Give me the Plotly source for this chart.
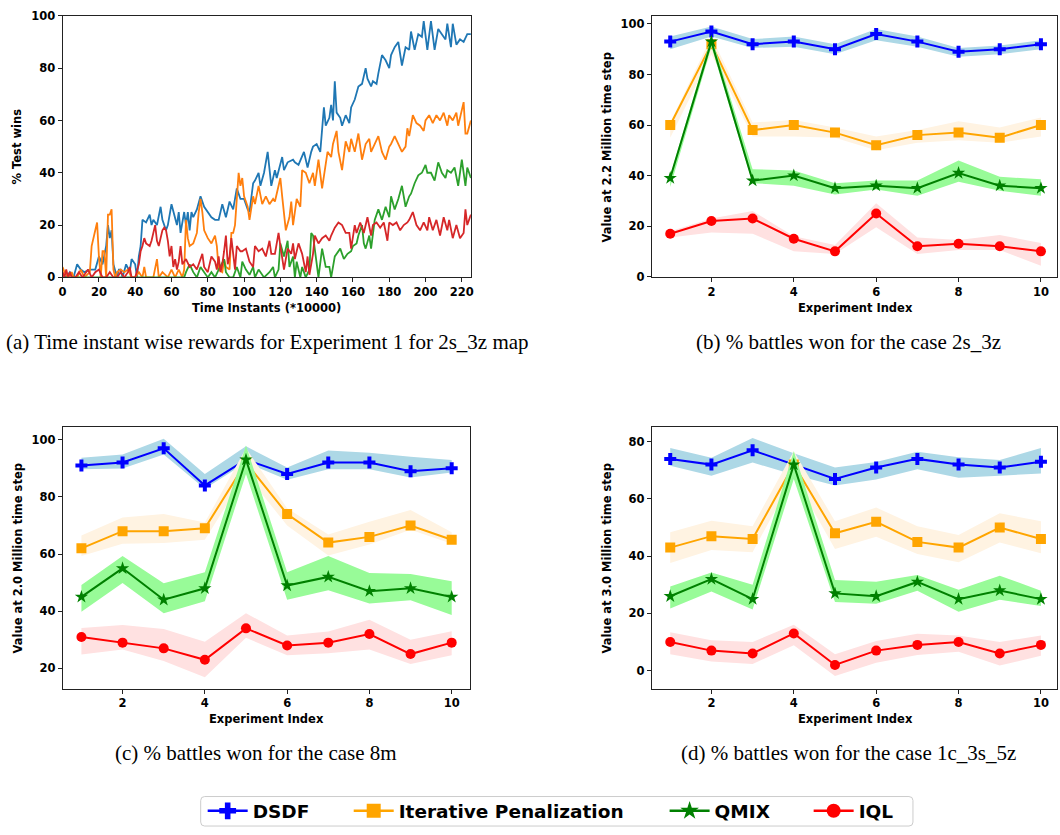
import plotly.graph_objects as go

FIG_W, FIG_H = 1060, 835


def fx(p):
    return p / FIG_W


def fy(p):
    return 1 - p / FIG_H


# ---------------- (a) test win rate during training, experiment 1 ----------------
dsdf_t = [0, 2, 4, 6, 8, 10, 12, 15, 17, 18, 20, 22, 24, 25, 26, 27, 28, 30, 31, 32, 33, 35, 37, 38,
          40, 41, 42, 43, 44, 46, 48, 49, 50, 52, 54, 55, 57, 58, 60, 61, 63, 64, 65, 67, 68, 69,
          70, 71, 72, 74, 76, 78, 80, 82, 84, 86, 88, 90, 92, 94, 96, 98, 100, 102, 103, 105, 106,
          108, 109, 111, 113, 115, 117, 118, 121, 122, 124, 127, 128, 130, 133, 135, 137, 138, 140,
          142, 144, 145, 147, 148, 149, 150, 151, 153, 154, 156, 158, 159, 161, 163, 165, 167, 168,
          170, 171, 173, 174, 176, 178, 180, 181, 183, 185, 187, 189, 191, 192, 194, 196, 198, 199,
          201, 203, 205, 207, 209, 211, 212, 214, 215, 217, 219, 221, 223, 225]
dsdf_win = [1, 0, 2, 0, 5, 3, 2, 3, 3, 3, 8, 5, 12, 20, 15, 18, 5, 0, 3, 3, 0, 5, 2, 7,
            5, 0, 8, 12, 22, 21, 24, 20, 22, 20, 27, 22, 18, 20, 28, 25, 20, 25, 17, 25, 20, 25,
            18, 25, 23, 26, 31, 27, 25, 23, 22, 22, 28, 23, 29, 26, 34, 30, 30, 26, 25, 36, 37,
            40, 35, 40, 48, 35, 41, 38, 46, 41, 44, 45, 44, 43, 48, 42, 48, 50, 51,
            48, 65, 58, 61, 66, 60, 75, 63, 61, 58, 62, 59, 65, 68, 73, 74, 80, 76,
            73, 75, 74, 78, 85, 83, 80, 85, 88, 90, 81, 88, 87, 94, 87, 93, 92, 98,
            87, 98, 87, 95, 93, 91, 97, 88, 97, 89, 91, 90, 93, 93]

ip_t = [0, 1, 3, 5, 6, 8, 10, 12, 15, 16, 18, 19, 20, 21, 22, 23, 24, 25, 26, 27, 28, 29, 30, 32,
        34, 36, 38, 40, 42, 44, 45, 46, 48, 50, 52, 53, 55, 58, 60, 62, 64, 66, 67, 68, 69, 70,
        72, 74, 75, 76, 77, 78, 80, 82, 84, 85, 86, 88, 89, 90, 92, 93, 94, 95, 96, 97, 98, 99,
        100, 102, 103, 105, 106, 108, 110, 112, 114, 116, 117, 120, 121, 123, 125, 126, 127, 129,
        131, 132, 134, 136, 138, 139, 141, 143, 146, 148, 149, 151, 152, 154, 156, 158, 159, 161,
        163, 165, 167, 169, 170, 172, 174, 176, 178, 180, 181, 183, 185, 187, 189, 190, 191, 193,
        195, 197, 199, 200, 202, 204, 206, 208, 210, 212, 213, 215, 217, 218, 221, 222, 223, 225]
ip_win = [4, 2, 0, 2, 0, 0, 3, 0, 2, 12, 18, 21, 8, 0, 10, 10, 0, 24, 24, 26, 3, 0, 2, 3,
          2, 3, 0, 0, 2, 0, 4, 0, 0, 0, 7, 0, 2, 0, 3, 0, 3, 0, 3, 22, 15, 12,
          13, 17, 25, 30, 25, 18, 15, 13, 16, 12, 3, 2, 7, 4, 3, 17, 17, 20, 30, 40, 35, 38,
          31, 27, 22, 31, 28, 35, 28, 31, 28, 30, 29, 38, 31, 18, 23, 29, 20, 30,
          27, 41, 40, 36, 40, 35, 45, 34, 48, 46, 51, 56, 48, 41, 52, 48, 53, 48,
          55, 45, 51, 53, 48, 51, 54, 48, 45, 50, 51, 54, 51, 48, 50, 57, 54, 62,
          59, 58, 56, 60, 62, 59, 62, 60, 63, 58, 62, 60, 63, 58, 67, 55, 55, 60]

qmix_t = [0, 20, 40, 60, 67, 68, 70, 72, 74, 76, 78, 80, 82, 84, 86, 88, 89, 90, 92, 94, 96, 98,
          99, 101, 103, 105, 106, 108, 111, 114, 116, 117, 119, 120, 122, 124, 125, 127, 128, 129,
          131, 132, 134, 136, 137, 138, 140, 141, 143, 145, 147, 148, 150, 152, 153, 155, 157, 159,
          160, 162, 163, 165, 166, 167, 169, 170, 172, 174, 176, 178, 180, 181, 183, 185, 187, 189,
          191, 192, 194, 196, 198, 200, 201, 203, 205, 207, 209, 211, 212, 214, 216, 218, 220, 222,
          223, 225]
qmix_win = [0, 0, 0, 0, 0, 2, 5, 2, 0, 4, 2, 0, 2, 0, 3, 6, 7, 2, 0, 0, 4, 0,
            6, 3, 1, 4, 0, 3, 0, 2, 4, 0, 3, 13, 8, 14, 4, 8, 0, 6,
            0, 4, 0, 3, 17, 16, 4, 0, 11, 4, 4, 0, 8, 10, 11, 7, 9, 10,
            12, 13, 16, 20, 13, 11, 16, 11, 22, 26, 22, 27, 23, 31, 26, 30, 35, 27,
            31, 32, 36, 39, 40, 43, 40, 40, 37, 44, 40, 38, 41, 40, 42, 35, 45, 35,
            42, 38]

iql_t = [0, 1, 2, 3, 4, 5, 7, 9, 11, 13, 14, 16, 18, 20, 22, 24, 26, 28, 30, 32, 34, 36, 37, 38,
         40, 42, 43, 44, 45, 46, 48, 49, 50, 51, 52, 53, 54, 55, 56, 57, 58, 59, 60, 61, 62, 63,
         64, 65, 66, 68, 70, 72, 74, 76, 77, 78, 80, 82, 84, 85, 86, 87, 88, 89, 90, 91, 92, 93,
         94, 95, 96, 98, 99, 101, 103, 105, 106, 108, 110, 112, 114, 115, 117, 119, 120, 122, 124,
         126, 127, 128, 130, 132, 134, 135, 136, 138, 139, 141, 143, 145, 147, 148, 150, 152, 154,
         156, 158, 159, 161, 162, 164, 166, 168, 170, 171, 173, 175, 177, 179, 180, 182, 184, 186,
         188, 190, 191, 193, 195, 197, 199, 201, 202, 204, 206, 208, 210, 212, 213, 215, 217, 219,
         221, 222, 223, 225]
iql_win = [2, 0, 3, 0, 2, 0, 0, 2, 0, 2, 3, 0, 2, 3, 0, 0, 2, 0, 0, 2, 0, 2, 4, 0,
           0, 5, 10, 12, 15, 13, 12, 14, 17, 20, 14, 12, 15, 18, 19, 18, 14, 8, 12, 4, 7, 3,
           6, 12, 5, 7, 4, 5, 3, 7, 9, 4, 2, 8, 6, 3, 8, 2, 5, 10, 16, 5, 8, 15,
           10, 3, 12, 10, 10, 11, 6, 4, 12, 10, 11, 8, 14, 9, 9, 17, 12, 3, 11,
           9, 13, 7, 13, 9, 2, 8, 1, 9, 16, 13, 15, 16, 14, 16, 19, 21, 20,
           17, 17, 11, 20, 17, 21, 17, 23, 16, 20, 21, 19, 21, 14, 21, 20, 21, 18,
           20, 21, 22, 25, 20, 18, 21, 18, 23, 18, 22, 16, 23, 18, 22, 15, 20, 15,
           17, 26, 20, 24]

# ---------------- (b)-(d) value at the final time step per experiment ----------------
experiments = [1, 2, 3, 4, 5, 6, 7, 8, 9, 10]

# (b) 2s_3z, value at 2.2M steps
b_dsdf = [93, 97, 92, 93, 90, 96, 93, 89, 90, 92]
b_dsdf_lo = [90, 95, 90.5, 91, 88, 93.5, 91, 87, 88, 90]
b_dsdf_hi = [95, 99, 94, 95, 92, 98, 95, 90.5, 91.5, 93.5]
b_ip = [60, 92, 58, 60, 57, 52, 56, 57, 55, 60]
b_ip_lo = [55, 88, 55.5, 55.5, 55, 50, 53, 54, 53, 55.5]
b_ip_hi = [61, 95, 61, 62, 59, 55.5, 58, 61.5, 59, 63]
b_qmix = [39, 93, 38, 40, 35, 36, 35, 41, 36, 35]
b_qmix_lo = [35.5, 91, 37, 36, 32.5, 34.5, 32, 37.5, 34, 32]
b_qmix_hi = [40, 95, 42.5, 42, 37, 38, 38, 46, 39.5, 38.5]
b_iql = [17, 22, 23, 15, 10, 25, 12, 13, 12, 10]
b_iql_lo = [15.5, 17.5, 17, 10, 9, 19.5, 9, 10.5, 10.5, 4.3]
b_iql_hi = [18, 23, 26, 16, 12.5, 29, 15.5, 14.5, 16.5, 13.3]

# (c) 8m, value at 2.0M steps
c_dsdf = [91, 92, 97, 84, 93, 88, 92, 92, 89, 90]
c_dsdf_lo = [89.7, 89.9, 94.8, 82.8, 92, 86, 89.7, 89.7, 86.8, 88.5]
c_dsdf_hi = [93.7, 94.8, 100.3, 88, 97.7, 90.3, 96.2, 95.4, 94, 92.9]
c_ip = [62, 68, 68, 69, 92, 74, 64, 66, 70, 65]
c_ip_lo = [59.3, 63.6, 63.9, 65, 88, 70, 59.5, 63.3, 68.5, 63.6]
c_ip_hi = [66.5, 72.8, 74, 71, 97, 76, 66.8, 71.3, 75.4, 67.6]
c_qmix = [45, 55, 44, 48, 93, 49, 52, 47, 48, 45]
c_qmix_lo = [39.8, 49.9, 39.3, 43.5, 88, 44, 47.3, 42.7, 43.8, 38.7]
c_qmix_hi = [49.2, 59.3, 49.8, 53.6, 98, 53.6, 59.3, 53.4, 53, 50.5]
c_iql = [31, 29, 27, 23, 34, 28, 29, 32, 25, 29]
c_iql_lo = [24.9, 26.6, 22.6, 16.9, 30.7, 24.6, 25.3, 26.6, 21.5, 24.6]
c_iql_hi = [34.1, 35.2, 33.8, 29.3, 39.3, 31.5, 32.9, 37, 30, 33]

# (d) 1c_3s_5z, value at 3.0M steps
d_dsdf = [74, 72, 77, 72, 67, 71, 74, 72, 71, 73]
d_dsdf_lo = [71.6, 68.1, 72.7, 68.5, 64.7, 66.8, 70.4, 67.4, 68.1, 68.9]
d_dsdf_hi = [77.8, 74.4, 81.3, 76, 71, 72.9, 76.5, 74.6, 73.6, 77.8]
d_ip = [43, 47, 46, 72, 48, 52, 45, 43, 50, 46]
d_ip_lo = [37.6, 42.2, 41.4, 68, 42.5, 46.8, 40.8, 37.9, 44.8, 41]
d_ip_hi = [48.4, 52.4, 50.5, 76.7, 52.2, 57, 50.5, 47.4, 55, 52.2]
d_qmix = [26, 32, 25, 72, 27, 26, 31, 25, 28, 25]
d_qmix_lo = [21.7, 27.7, 21.4, 67, 24, 23.4, 27.9, 20.6, 24.8, 22.6]
d_qmix_hi = [29.4, 34.3, 30, 76.7, 31.7, 31.1, 33.4, 28.3, 33.2, 27.9]
d_iql = [10, 7, 6, 13, 2, 7, 9, 10, 6, 9]
d_iql_lo = [5.7, 3.2, 2.3, 8.9, -1.9, 2.8, 5.5, 6.6, 1.8, 5.2]
d_iql_hi = [13.4, 10.6, 10, 16, 5.7, 10.4, 12.9, 12.3, 10, 12.3]

method_names = ["DSDF", "Iterative Penalization", "QMIX", "IQL"]
line_colors = ["#0000ff", "#ffa500", "#008000", "#ff0000"]
band_colors = ["#add8e6", "#fff3e2", "#98fb98", "#ffe1e1"]
marker_symbols = ["cross", "square", "star", "circle"]
marker_sizes = [10, 10, 10, 10]
curve_colors = ["#1f77b4", "#ff7f0e", "#2ca02c", "#d62728"]

fig = go.Figure()

# ---- (a) ----
for t, v, col in [(dsdf_t, dsdf_win, curve_colors[0]), (ip_t, ip_win, curve_colors[1]),
                  (qmix_t, qmix_win, curve_colors[2]), (iql_t, iql_win, curve_colors[3])]:
    fig.add_trace(go.Scatter(x=t, y=v, mode="lines", line=dict(color=col, width=1.8),
                             xaxis="x", yaxis="y", showlegend=False, hoverinfo="skip"))

# ---- (b)-(d) ----
panels = [
    ("x2", "y2", [(b_dsdf, b_dsdf_lo, b_dsdf_hi), (b_ip, b_ip_lo, b_ip_hi),
                  (b_qmix, b_qmix_lo, b_qmix_hi), (b_iql, b_iql_lo, b_iql_hi)]),
    ("x3", "y3", [(c_dsdf, c_dsdf_lo, c_dsdf_hi), (c_ip, c_ip_lo, c_ip_hi),
                  (c_qmix, c_qmix_lo, c_qmix_hi), (c_iql, c_iql_lo, c_iql_hi)]),
    ("x4", "y4", [(d_dsdf, d_dsdf_lo, d_dsdf_hi), (d_ip, d_ip_lo, d_ip_hi),
                  (d_qmix, d_qmix_lo, d_qmix_hi), (d_iql, d_iql_lo, d_iql_hi)]),
]
for xa, ya, series in panels:
    for k, (mean, lo, hi) in enumerate(series):
        fig.add_trace(go.Scatter(x=experiments, y=lo, mode="lines", line=dict(width=0),
                                 xaxis=xa, yaxis=ya, showlegend=False, hoverinfo="skip"))
        fig.add_trace(go.Scatter(x=experiments, y=hi, mode="lines", line=dict(width=0),
                                 fill="tonexty", fillcolor=band_colors[k],
                                 xaxis=xa, yaxis=ya, showlegend=False, hoverinfo="skip"))
        fig.add_trace(go.Scatter(x=experiments, y=mean, mode="lines+markers",
                                 line=dict(color=line_colors[k], width=2),
                                 marker=dict(symbol=marker_symbols[k], size=marker_sizes[k],
                                             color=line_colors[k]),
                                 xaxis=xa, yaxis=ya, showlegend=False, name=method_names[k]))

# ---- shared legend, one entry per legend group ----
legend_ids = ["legend", "legend2", "legend3", "legend4"]
legend_left = [200, 347, 665, 810]
for k in range(4):
    fig.add_trace(go.Scatter(x=[None], y=[None], mode="lines+markers", name=method_names[k],
                             line=dict(color=line_colors[k], width=2.5),
                             marker=dict(symbol=marker_symbols[k], size=14, color=line_colors[k]),
                             xaxis="x2", yaxis="y2", legend=legend_ids[k], showlegend=True))

tick_font = dict(family="DejaVu Sans", size=11.5, color="black", weight="bold")


def axis(domain, rng, anchor, dtick, tick0=0):
    return dict(domain=domain, range=rng, anchor=anchor, showgrid=False, zeroline=False,
                showline=True, linecolor="#222222", linewidth=1, mirror=True,
                ticks="outside", ticklen=4, tickwidth=1, tickcolor="#222222",
                tickfont=tick_font, dtick=dtick, tick0=tick0, fixedrange=True)


top_dom = [fy(275), fy(9)]
bot_dom = [fy(693.3), fy(426.7)]
left_dom = [fx(59), fx(470)]
right_dom = [fx(652), 1.0]
exp_range = [0.55, 10.39]

layout = dict(
    width=FIG_W, height=FIG_H, margin=dict(l=0, r=0, t=0, b=0),
    paper_bgcolor="white", plot_bgcolor="white",
    xaxis=axis(left_dom, [0, 225], "y", 20),
    yaxis=axis(top_dom, [0, 100], "x", 20),
    xaxis2=axis(right_dom, exp_range, "y2", 2),
    yaxis2=axis(top_dom, [-0.3, 103.2], "x2", 20),
    xaxis3=axis([fx(59.3), fx(469.3)], [0.55, 10.45], "y3", 2),
    yaxis3=axis(bot_dom, [12.9, 104.6], "x3", 20),
    xaxis4=axis(right_dom, exp_range, "y4", 2),
    yaxis4=axis(bot_dom, [-6.3, 85.3], "x4", 20),
)
legend_font = dict(family="DejaVu Sans", size=18.5, color="black", weight="bold")
for k, lid in enumerate(legend_ids):
    layout[lid] = dict(x=fx(legend_left[k]), xanchor="left", y=fy(818), yanchor="middle",
                       orientation="h", font=legend_font, bgcolor="rgba(0,0,0,0)",
                       borderwidth=0, itemwidth=40)
fig.update_layout(**layout)

# legend frame with rounded corners
x0, x1, y0, y1 = fx(198), fx(915), fy(833), fy(803)
rx, ry = 4 / FIG_W, 4 / FIG_H
frame = (f"M {x0 + rx},{y0} L {x1 - rx},{y0} Q {x1},{y0} {x1},{y0 + ry} "
         f"L {x1},{y1 - ry} Q {x1},{y1} {x1 - rx},{y1} L {x0 + rx},{y1} "
         f"Q {x0},{y1} {x0},{y1 - ry} L {x0},{y0 + ry} Q {x0},{y0} {x0 + rx},{y0} Z")
fig.add_shape(type="path", path=frame, xref="paper", yref="paper",
              line=dict(color="#cccccc", width=1), fillcolor="rgba(255,255,255,0.8)", layer="below")

label_font = dict(family="DejaVu Sans", size=11.5, color="black", weight="bold")
caption_font = dict(family="Liberation Serif", size=21, color="black")


def note(text, x, y, font, angle=0, anchor="center"):
    fig.add_annotation(text=text, x=fx(x), y=fy(y), xref="paper", yref="paper",
                       showarrow=False, font=font, textangle=angle,
                       xanchor=anchor, yanchor="middle")


# axis titles
note("% Test wins", 13, 142, label_font, -90)
note("Time Instants (*10000)", 264.5, 306, label_font)
note("Value at 2.2 Million time step", 607, 142, label_font, -90)
note("Experiment Index", 857, 306, label_font)
note("Value at 2.0 Million time step", 14, 560, label_font, -90)
note("Experiment Index", 264, 724, label_font)
note("Value at 3.0 Million time step", 607, 560, label_font, -90)
note("Experiment Index", 857, 724, label_font)

# sub-figure captions
note("(a) Time instant wise rewards for Experiment 1 for 2s_3z map", 0, 341, caption_font,
     anchor="left")
note("(b) % battles won for the case 2s_3z", 850, 341, caption_font)
note("(c) % battles won for the case 8m", 254, 759, caption_font)
note("(d) % battles won for the case 1c_3s_5z", 850, 759, caption_font)

fig.write_html("out.html")
